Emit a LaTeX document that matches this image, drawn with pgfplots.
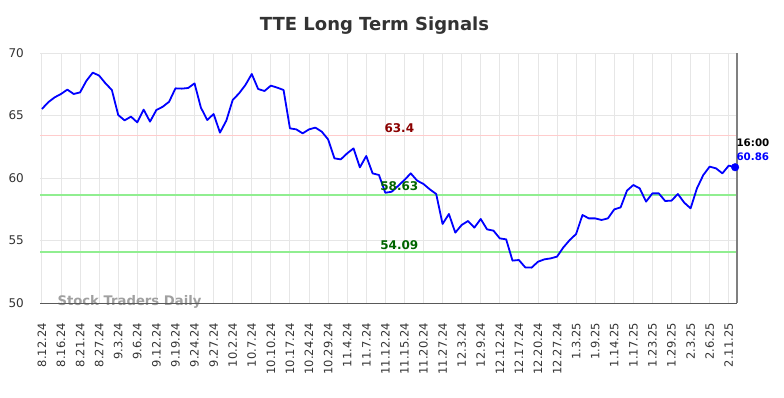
\documentclass[border=0pt]{standalone}
\usepackage{pgfplots}
\pgfplotsset{compat=1.18}
\usepackage{pgfplotstable}
\usepackage{fontspec}
\setmainfont{DejaVu Sans}
\definecolor{txt}{HTML}{333333}
\definecolor{gridc}{HTML}{E6E6E6}
\definecolor{redl}{HTML}{FFCCCC}
\definecolor{greenl}{HTML}{90EE90}
\definecolor{redt}{HTML}{8B0000}
\definecolor{greent}{HTML}{006400}
\definecolor{wm}{HTML}{A0A0A0}
\pgfplotstableread{
i v
0 65.52
1 66.06
2 66.45
3 66.72
4 67.07
5 66.72
6 66.85
7 67.78
8 68.43
9 68.19
10 67.57
11 67.04
12 65.04
13 64.61
14 64.91
15 64.45
16 65.47
17 64.51
18 65.44
19 65.70
20 66.10
21 67.17
22 67.15
23 67.20
24 67.57
25 65.63
26 64.64
27 65.12
28 63.63
29 64.59
30 66.24
31 66.77
32 67.44
33 68.32
34 67.12
35 66.96
36 67.39
37 67.23
38 67.04
39 63.97
40 63.89
41 63.57
42 63.89
43 64.03
44 63.71
45 63.09
46 61.57
47 61.49
48 61.97
49 62.37
50 60.85
51 61.76
52 60.37
53 60.24
54 58.82
55 58.90
56 59.36
57 59.84
58 60.37
59 59.79
60 59.52
61 59.09
62 58.72
63 56.32
64 57.12
65 55.63
66 56.24
67 56.56
68 56.03
69 56.72
70 55.89
71 55.79
72 55.17
73 55.09
74 53.39
75 53.44
76 52.85
77 52.83
78 53.30
79 53.49
80 53.57
81 53.71
82 54.45
83 55.04
84 55.52
85 57.04
86 56.77
87 56.77
88 56.64
89 56.77
90 57.49
91 57.65
92 58.99
93 59.44
94 59.17
95 58.11
96 58.77
97 58.77
98 58.16
99 58.19
100 58.72
101 58.03
102 57.57
103 59.17
104 60.24
105 60.91
106 60.77
107 60.37
108 60.99
109 60.86
}\tte
\begin{document}
\begin{tikzpicture}
\path[use as bounding box] (0,0) rectangle (784pt,398pt);
\node[font=\bfseries\fontsize{18}{20}\selectfont, text=txt] at (374.5pt,372pt) {TTE Long Term Signals};
\begin{axis}[
  at={(40pt,95pt)}, anchor=south west,
  width=697pt, height=250pt, scale only axis,
  xmin=-0.3, xmax=109.3, ymin=50, ymax=70,
  axis line style={draw=none},
  major tick length=0pt,
  xtick={0,3,...,108},
  xticklabels={8.12.24,8.16.24,8.21.24,8.27.24,9.3.24,9.6.24,9.12.24,9.19.24,9.24.24,9.27.24,10.2.24,10.7.24,10.10.24,10.17.24,10.24.24,10.29.24,11.4.24,11.7.24,11.12.24,11.15.24,11.20.24,11.27.24,12.3.24,12.9.24,12.12.24,12.17.24,12.20.24,12.27.24,1.3.25,1.9.25,1.14.25,1.17.25,1.23.25,1.29.25,2.3.25,2.6.25,2.11.25},
  ytick={50,55,60,65,70},
  yticklabels={50,55,60,65,70},
  xticklabel style={font=\fontsize{11.5}{12}\selectfont, text=txt, inner sep=0pt, yshift=-20pt, rotate=90, anchor=east},
  yticklabel style={anchor=east, font=\fontsize{12}{13}\selectfont, text=txt, xshift=-16pt, inner sep=0pt},
  grid=major, major grid style={gridc, line width=0.9pt},
  clip=false,
]
\node[anchor=west, font=\bfseries\fontsize{13.2}{14}\selectfont, text=wm] at (axis cs:1.9,50.1) {Stock Traders Daily};
\addplot[draw=redl, line width=1.2pt, forget plot] coordinates {(-0.3,63.4) (109.3,63.4)};
\addplot[draw=greenl, line width=2pt, forget plot] coordinates {(-0.3,58.63) (109.3,58.63)};
\addplot[draw=greenl, line width=2pt, forget plot] coordinates {(-0.3,54.09) (109.3,54.09)};
\draw[draw=black!65, line width=0.9pt] (rel axis cs:0,0) -- (rel axis cs:1,0);
\draw[draw=black!50, line width=1.6pt] (rel axis cs:1,0) -- (rel axis cs:1,1);
\addplot[draw={rgb,255:red,0;green,0;blue,255}, line width=1.8pt, line join=round] table[x=i, y=v] {\tte};
\addplot[only marks, mark=*, mark size=3.8pt, color={rgb,255:red,0;green,0;blue,255}] coordinates {(109,60.86)};
\node[font=\bfseries\fontsize{12}{13}\selectfont, text=redt] at (axis cs:56.2,63.4) [yshift=7pt] {63.4};
\node[font=\bfseries\fontsize{12}{13}\selectfont, text=greent] at (axis cs:56.2,58.63) [yshift=8.5pt] {58.63};
\node[font=\bfseries\fontsize{12}{13}\selectfont, text=greent] at (axis cs:56.2,54.09) [yshift=7pt] {54.09};
\node[anchor=west, font=\bfseries\fontsize{10.3}{11}\selectfont, text=black, inner sep=0pt] at (axis cs:109.2,60.86) [yshift=24pt] {16:00};
\node[anchor=west, font=\bfseries\fontsize{10.3}{11}\selectfont, text={rgb,255:red,0;green,0;blue,255}, inner sep=0pt] at (axis cs:109.2,60.86) [yshift=10pt] {60.86};
\end{axis}
\end{tikzpicture}
\end{document}
